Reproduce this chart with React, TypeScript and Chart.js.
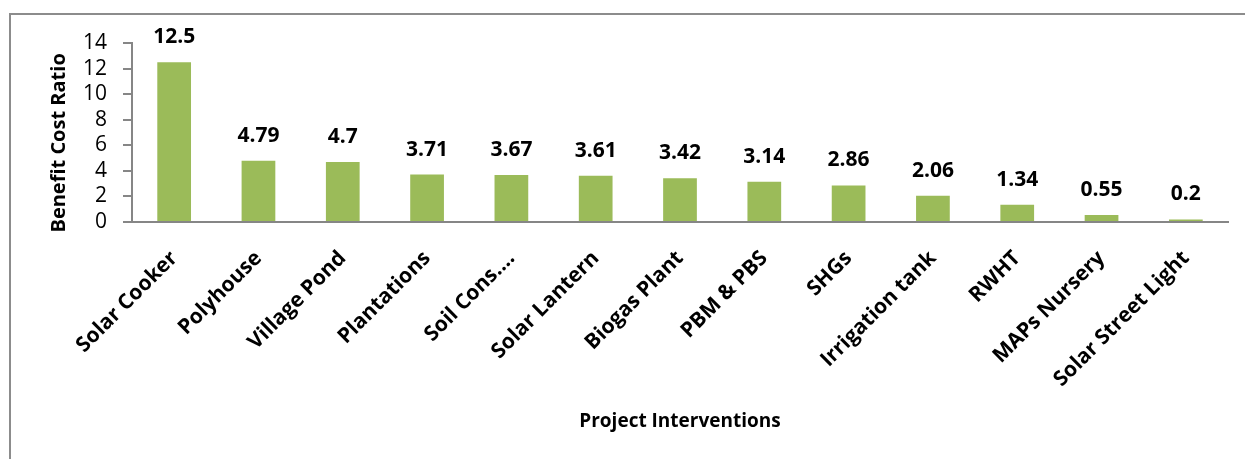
import React, { useEffect, useRef } from "react";
import { Chart, registerables } from "chart.js";

Chart.register(...registerables);

const categories: string[] = [
  "Solar Cooker",
  "Polyhouse",
  "Village Pond",
  "Plantations",
  "Soil Cons.…",
  "Solar Lantern",
  "Biogas Plant",
  "PBM & PBS",
  "SHGs",
  "Irrigation tank",
  "RWHT",
  "MAPs Nursery",
  "Solar Street Light",
];

const benefitCostRatio: number[] = [12.5, 4.79, 4.7, 3.71, 3.67, 3.61, 3.42, 3.14, 2.86, 2.06, 1.34, 0.55, 0.2];

const valueLabels: string[] = ["12.5", "4.79", "4.7", "3.71", "3.67", "3.61", "3.42", "3.14", "2.86", "2.06", "1.34", "0.55", "0.2"];

const yTitle = "Benefit Cost Ratio    ";
const xTitle = "Project Interventions";

const FONT = "'Open Sans', Lato, sans-serif";

const frameAndLabels = {
  id: "frameAndLabels",
  beforeDraw(chart: any) {
    const ctx = chart.ctx;
    ctx.save();
    ctx.fillStyle = "#ffffff";
    ctx.fillRect(0, 0, chart.width, chart.height);
    ctx.strokeStyle = "#8c8c8c";
    ctx.lineWidth = 2;
    ctx.strokeRect(10, 14, chart.width + 20, chart.height + 20);
    ctx.restore();
  },
  afterDatasetsDraw(chart: any) {
    const ctx = chart.ctx;
    const meta = chart.getDatasetMeta(0);
    ctx.save();
    ctx.font = `bold 21px ${FONT}`;
    ctx.fillStyle = "#000000";
    ctx.textAlign = "center";
    ctx.textBaseline = "alphabetic";
    meta.data.forEach((bar: any, i: number) => {
      ctx.fillText(valueLabels[i], bar.x, bar.y - 19);
    });
    ctx.restore();
  },
};

export default function App() {
  const ref = useRef<HTMLCanvasElement | null>(null);

  useEffect(() => {
    if (!ref.current) return;
    const chart = new Chart(ref.current, {
      type: "bar",
      data: {
        labels: categories,
        datasets: [
          {
            data: benefitCostRatio,
            backgroundColor: "#9bbb59",
            borderWidth: 0,
            barPercentage: 0.4,
            categoryPercentage: 1,
          },
        ],
      },
      options: {
        responsive: false,
        animation: false,
        events: [],
        layout: { padding: { left: 0, top: 43, right: 17, bottom: 0 } },
        plugins: {
          legend: { display: false },
          tooltip: { enabled: false },
          title: { display: false },
        },
        scales: {
          x: {
            type: "category",
            grid: { display: false },
            border: { display: true, color: "#868686", width: 2 },
            ticks: {
              autoSkip: false,
              maxRotation: 45,
              minRotation: 45,
              padding: 16,
              labelOffset: 0,
              color: "#000000",
              font: { family: FONT, size: 21, weight: "bold" },
            },
            title: {
              display: true,
              text: xTitle,
              color: "#000000",
              font: { family: FONT, size: 19, weight: "bold" },
              padding: { top: 0, bottom: 26 },
            },
            afterFit(scale: any) {
              scale.height = 237;
            },
          },
          y: {
            min: 0,
            max: 14,
            grid: {
              display: true,
              drawOnChartArea: false,
              drawTicks: true,
              tickLength: 9,
              color: "#868686",
              lineWidth: 2,
            },
            border: { display: true, color: "#868686", width: 2 },
            ticks: {
              stepSize: 2,
              autoSkip: false,
              padding: 16,
              color: "#000000",
              font: { family: FONT, size: 21 },
            },
            title: {
              display: true,
              text: yTitle,
              color: "#000000",
              font: { family: FONT, size: 20, weight: "bold" },
              padding: { top: 47, bottom: 0 },
            },
            afterFit(scale: any) {
              scale.width = 132;
            },
          },
        },
      },
      plugins: [frameAndLabels],
    });
    return () => chart.destroy();
  }, []);

  return (
    <div style={{ position: "fixed", left: 0, top: 0, width: 1245, height: 459, background: "#fff" }}>
      <canvas ref={ref} width={1245} height={459} style={{ display: "block" }} />
    </div>
  );
}
